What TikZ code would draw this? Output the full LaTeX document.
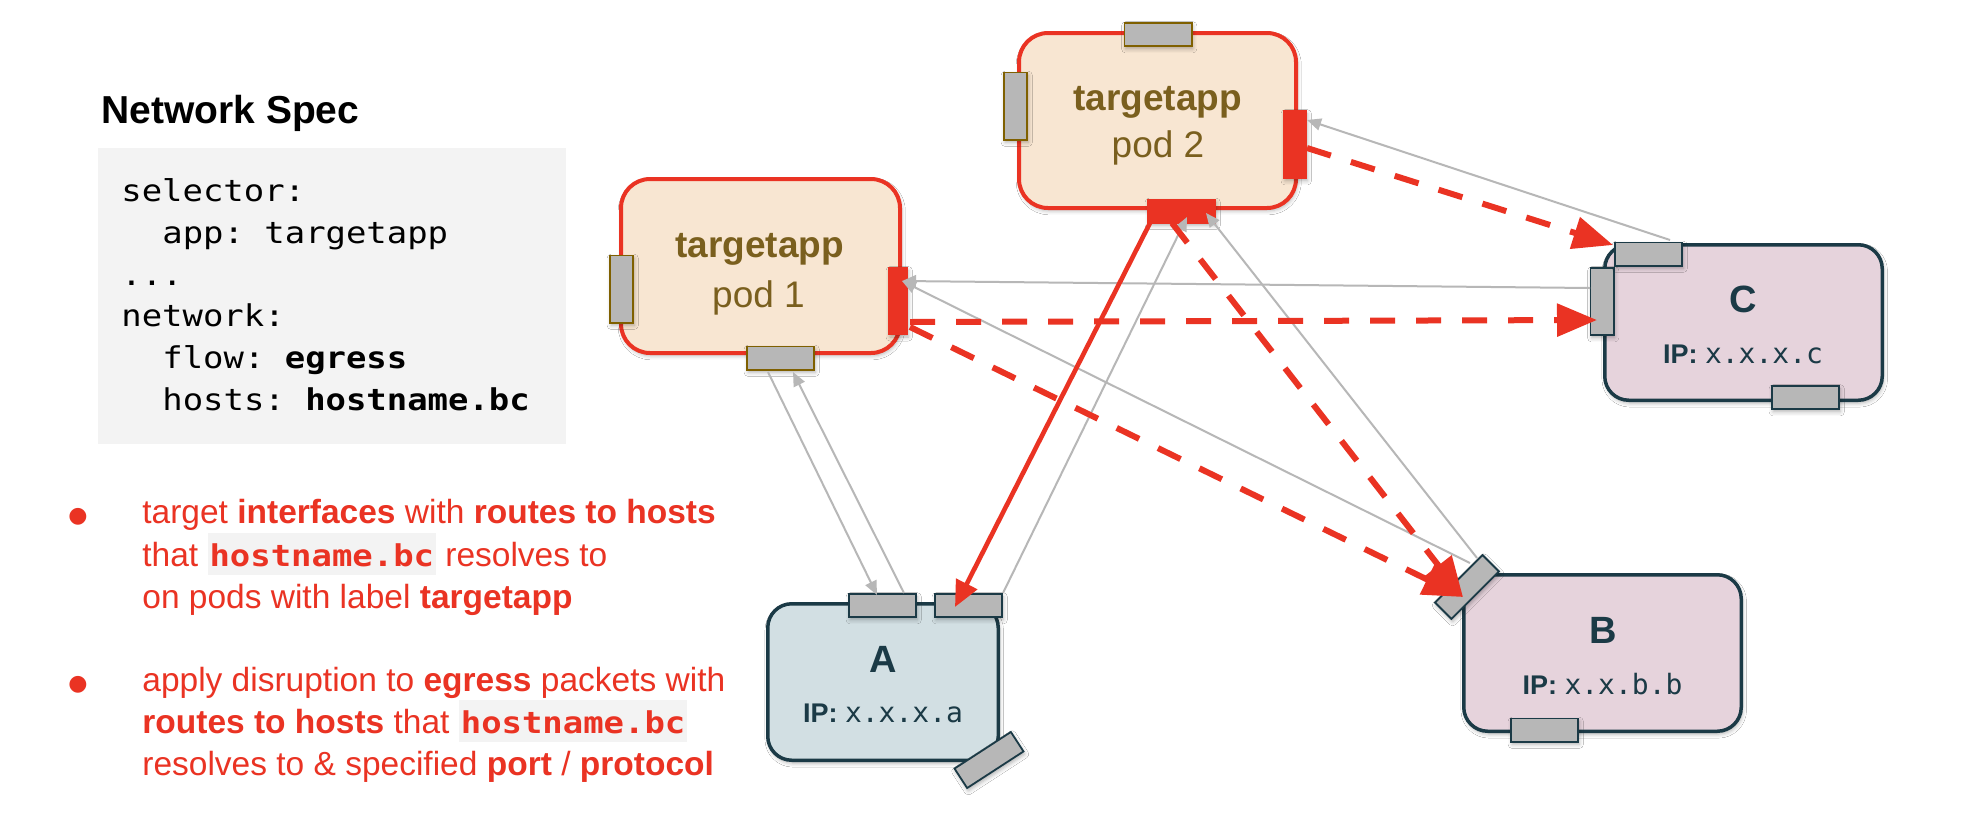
\documentclass[tikz,border=0pt]{standalone}
\usepackage{fontspec}
\setmainfont{Liberation Sans}
\newfontfamily\codefont{DejaVu Sans Mono}[FakeStretch=1.13]
\newfontfamily\ipmono{DejaVu Sans Mono}
\newfontfamily\symfont{DejaVu Sans}
\usetikzlibrary{arrows.meta,calc,shadows.blur}

\definecolor{accent}{HTML}{EA3323}
\definecolor{podfill}{HTML}{F8E6D2}
\definecolor{podtext}{HTML}{7A5F1E}
\definecolor{portgray}{HTML}{B7B7B7}
\definecolor{portedge}{HTML}{7F6000}
\definecolor{hostedge}{HTML}{1B3A46}
\definecolor{hostpink}{HTML}{E6D3DC}
\definecolor{hostblue}{HTML}{D2DFE3}
\definecolor{codebg}{HTML}{F3F3F3}
\definecolor{linkgray}{HTML}{B7B7B7}

% inline code with a light background, as used in the notes
\newcommand{\hostcode}[1]{{\setlength{\fboxsep}{0pt}\colorbox{codebg}{\rule[-4.5pt]{0pt}{21pt}\kern1pt{\codefont\fontsize{15}{18}\selectfont\bfseries #1}\kern1pt}}}

\begin{document}
\frenchspacing
\begin{tikzpicture}[x=0.5pt,y=-0.5pt,
  softshadow/.style={blur shadow={shadow xshift=0.6pt,shadow yshift=-1.4pt,shadow blur radius=2pt,shadow opacity=30}},
  podbox/.style={draw=accent,line width=2pt,fill=podfill,rounded corners=14.5pt,inner sep=0pt,softshadow},
  hostbox/.style={draw=hostedge,line width=1.75pt,rounded corners=12pt,inner sep=0pt,softshadow},
  port/.style={draw,line width=0.9pt,fill=portgray,inner sep=0pt,softshadow},
  hport/.style={port,minimum width=33.6pt,minimum height=11.6pt},
  vport/.style={port,minimum width=11.6pt,minimum height=33.6pt},
  podport/.style={draw=portedge},
  hostport/.style={draw=hostedge},
  hotport/.style={draw=accent,fill=accent},
  egress/.style={draw=accent,line width=3pt,dash pattern=on 12.5pt off 10.5pt,-{Triangle[length=20pt,width=16pt]}},
  direct/.style={draw=accent,line width=2.3pt,-{Triangle[length=13pt,width=11.5pt]}},
  route/.style={draw=linkgray,line width=1pt,-{Triangle[length=7pt,width=6pt]}},
  podname/.style={font=\fontsize{18.5}{22}\selectfont\bfseries,text=podtext,anchor=base,inner sep=0pt},
  podidx/.style={font=\fontsize{18.5}{22}\selectfont,text=podtext,anchor=base,inner sep=0pt},
  hostletter/.style={font=\fontsize{19}{22}\selectfont\bfseries,text=hostedge,anchor=base,inner sep=0pt},
  hostip/.style={font=\fontsize{13.5}{16}\selectfont,text=hostedge,anchor=base,inner sep=0pt},
  codeline/.style={font=\codefont\fontsize{15}{18}\selectfont,anchor=base west,inner sep=0pt},
  noteline/.style={font=\fontsize{16.75}{20}\selectfont,text=accent,anchor=base west,inner sep=0pt},
  notedot/.style={font=\symfont\fontsize{11}{12}\selectfont,text=accent,inner sep=0pt}
]
\useasboundingbox[fill=white] (0,0) rectangle (1972,826);

% ---- spec panel ----
\node[font=\fontsize{19.5}{23}\selectfont\bfseries,anchor=base west,inner sep=0pt] (title) at (101,123) {Network Spec};
\fill[codebg] (98,148) rectangle (566,444);
\node[codeline] (c1) at (121,201.7) {selector:};
\node[codeline] (c2) at (162,243.3) {app: targetapp};
\node[codeline] (c3) at (121,285) {...};
\node[codeline] (c4) at (121,326.7) {network:};
\node[codeline] (c5) at (162,368.3) {flow: \textbf{egress}};
\node[codeline] (c6) at (162,410) {hosts: \textbf{hostname.bc}};

% ---- notes ----
\node[notedot] (d1) at (78,517) {●};
\node[noteline] (n1) at (142,523.3) {target \textbf{interfaces} with \textbf{routes to hosts}};
\node[noteline] (n2) at (142,566) {that \hostcode{hostname.bc} resolves to};
\node[noteline] (n3) at (142,608) {on pods with label \textbf{targetapp}};
\node[notedot] (d2) at (78,685) {●};
\node[noteline] (n4) at (142,691.7) {apply disruption to \textbf{egress} packets with};
\node[noteline] (n5) at (142,733) {\textbf{routes to hosts} that \hostcode{hostname.bc}};
\node[noteline] (n6) at (142,775) {resolves to \& specified \textbf{port} / \textbf{protocol}};

% ---- pods and hosts ----
\node[podbox,minimum width=139.5pt,minimum height=87pt] (pod1) at (760.5,266) {};
\node[podbox,minimum width=138.5pt,minimum height=87.5pt] (pod2) at (1157.5,120.5) {};
\node[hostbox,fill=hostpink,minimum width=138.75pt,minimum height=77.75pt] (hostC) at (1743.5,322.5) {};
\node[hostbox,fill=hostblue,minimum width=115.25pt,minimum height=78.25pt] (hostA) at (883,682) {};
\node[hostbox,fill=hostpink,minimum width=138.75pt,minimum height=78.25pt] (hostB) at (1602.5,653) {};

% ---- interfaces ----
\node[vport,podport] (p1L) at (621.5,289) {};
\node[hport,podport] (p1B) at (780.5,358) {};
\node[port,hotport,minimum width=9.2pt,minimum height=33.2pt] (p1R) at (898,301) {};
\node[hport,podport] (p2T) at (1158,34.5) {};
\node[vport,podport] (p2L) at (1015.5,106) {};
\node[port,hotport,minimum width=11.2pt,minimum height=33.6pt] (p2R) at (1295,144.5) {};
\node[hport,hotport] (p2B) at (1181.5,211) {};
\node[vport,hostport] (cL) at (1602,301.5) {};
\node[hport,hostport] (cT) at (1648.5,254) {};
\node[hport,hostport] (cB) at (1805.5,397.5) {};
\node[hport,hostport] (aT1) at (882.5,605.5) {};
\node[hport,hostport] (aT2) at (968.5,605.5) {};
\node[hport,hostport,rotate=33] (aX) at (989,760) {};
\node[hport,hostport,rotate=45] (bX) at (1467,587) {};
\node[hport,hostport] (bB) at (1544.5,730) {};

% ---- routes back to the pods ----
\draw[route] ($(cL)+(-12,-13.5)$) -- ($(p1R)+(4,-20)$);
\draw[route] ($(bX)+(3,-24)$) -- ($(p1R)+(4,-20)$);
\draw[route] ($(cT)+(21.5,-14)$) -- ($(p2R)+(12,-24.5)$);
\draw[route] ($(aT2)+(34.5,-12.5)$) -- ($(p2B)+(5.5,6)$);
\draw[route] ($(bX)+(10,-29)$) -- ($(p2B)+(24.5,2)$);
\draw[route] ($(p1B)+(-12.5,14)$) -- ($(aT1)+(-5.5,-10.5)$);
\draw[route] ($(aT1)+(21.5,-12.5)$) -- ($(p1B)+(12.5,14)$);

% ---- disrupted egress traffic ----
\draw[egress] ($(p1R)+(12,21)$) -- ($(cL)+(-5,18.5)$);
\draw[egress] ($(p1R)+(12,26)$) -- ($(bX)+(-4,10)$);
\draw[egress] ($(p2R)+(12,3.5)$) -- ($(cT)+(-35.5,-9)$);
\draw[egress] ($(p2B)+(-9.5,12)$) -- ($(bX)+(-4,10)$);
\draw[direct] ($(p2B)+(-31.5,12)$) -- ($(aT2)+(-13.5,1.5)$);

% ---- labels ----
\node[podname] (t1) at (759.5,257) {targetapp};
\node[podidx] (i1) at (758.5,307) {pod 1};
\node[podname] (t2) at (1157.5,110) {targetapp};
\node[podidx] (i2) at (1158,157) {pod 2};
\node[hostletter] (lC) at (1743,312) {C};
\node[hostip] (ipC) at (1743,363) {\textbf{IP:} {\ipmono\fontsize{14}{16}\selectfont x.x.x.c}};
\node[hostletter] (lA) at (883,672) {A};
\node[hostip] (ipA) at (883,722) {\textbf{IP:} {\ipmono\fontsize{14}{16}\selectfont x.x.x.a}};
\node[hostletter] (lB) at (1603,643) {B};
\node[hostip] (ipB) at (1602.5,694) {\textbf{IP:} {\ipmono\fontsize{14}{16}\selectfont x.x.b.b}};
\end{tikzpicture}
\end{document}
